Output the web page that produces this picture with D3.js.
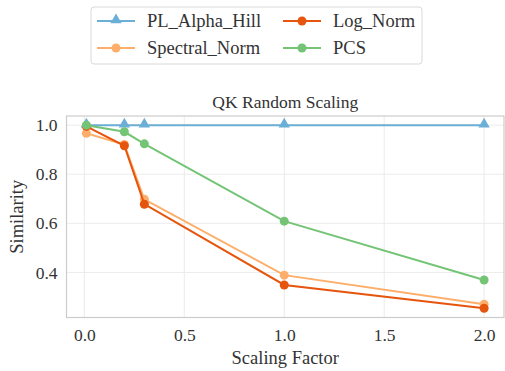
<!DOCTYPE html>
<html>
<head>
<meta charset="utf-8">
<script src="https://cdn.jsdelivr.net/npm/d3@7"></script>
<style>
  body { margin: 0; background: #fff; }
</style>
</head>
<body>
<svg id="chart" width="505" height="371"></svg>
<script>
// data
const scales = [0.01, 0.2, 0.3, 1.0, 2.0];
const alphaHill = [1.0, 1.0, 1.0, 1.0, 1.0];
const spectralNorm = [0.967, 0.921, 0.698, 0.389, 0.270];
const logNorm = [0.995, 0.916, 0.678, 0.349, 0.254];
const pcs = [1.0, 0.973, 0.924, 0.609, 0.369];
const xTicks = [0.0, 0.5, 1.0, 1.5, 2.0];
const yTicks = [0.4, 0.6, 0.8, 1.0];

const series = [
    { name: "PL_Alpha_Hill", values: alphaHill, color: "#6baed6", marker: "triangle" },
    { name: "Spectral_Norm", values: spectralNorm, color: "#fdae6b", marker: "circle" },
    { name: "Log_Norm", values: logNorm, color: "#e6550d", marker: "circle" },
    { name: "PCS", values: pcs, color: "#74c476", marker: "circle" }
];

const FONT = "'Liberation Serif', serif";
const svg = d3.select("#chart");
const plot = { left: 66.5, right: 504, top: 116, bottom: 317.5 };

const x = d3.scaleLinear().domain([-0.0895, 2.0995]).range([plot.left, plot.right]);
const y = d3.scaleLinear().domain([0.2164, 1.0373]).range([plot.bottom, plot.top]);

// grid
const grid = svg.append("g");
grid.selectAll(".gx").data(xTicks).join("line").attr("class", "gx")
    .attr("x1", d => x(d)).attr("x2", d => x(d))
    .attr("y1", plot.top).attr("y2", plot.bottom)
    .attr("stroke", "#e6e6e6").attr("stroke-width", 0.8);
grid.selectAll(".gy").data(yTicks).join("line").attr("class", "gy")
    .attr("x1", plot.left).attr("x2", plot.right)
    .attr("y1", d => y(d)).attr("y2", d => y(d))
    .attr("stroke", "#e6e6e6").attr("stroke-width", 0.8);

// frame
svg.append("rect")
    .attr("x", plot.left).attr("y", plot.top)
    .attr("width", plot.right - plot.left).attr("height", plot.bottom - plot.top)
    .attr("fill", "none").attr("stroke", "#cccccc").attr("stroke-width", 1.2);

// axes (labels only, no tick marks)
svg.append("g")
    .attr("transform", `translate(0,${plot.bottom})`)
    .call(d3.axisBottom(x).tickValues(xTicks).tickFormat(d3.format(".1f")).tickSize(0).tickPadding(11));
svg.append("g")
    .attr("transform", `translate(${plot.left},0)`)
    .call(d3.axisLeft(y).tickValues(yTicks).tickFormat(d3.format(".1f")).tickSize(0).tickPadding(9));
svg.selectAll(".domain").remove();
svg.selectAll(".tick text")
    .attr("font-family", FONT).attr("font-size", 17.5).attr("fill", "#333");

// lines and markers
const line = d3.line().x((d, i) => x(scales[i])).y(d => y(d));
const tri = d3.symbol().type(d3.symbolTriangle).size(55);

series.forEach(s => {
    const g = svg.append("g");
    g.append("path")
        .attr("d", line(s.values))
        .attr("fill", "none")
        .attr("stroke", s.color)
        .attr("stroke-width", 2);
    if (s.marker === "triangle") {
        g.selectAll("path.m").data(s.values).join("path")
            .attr("class", "m")
            .attr("d", tri)
            .attr("transform", (d, i) => `translate(${x(scales[i])},${y(d) - 1})`)
            .attr("fill", s.color);
    } else {
        g.selectAll("circle").data(s.values).join("circle")
            .attr("cx", (d, i) => x(scales[i]))
            .attr("cy", d => y(d))
            .attr("r", 4.5)
            .attr("fill", s.color);
    }
});

// title and axis labels
svg.append("text")
    .attr("x", (plot.left + plot.right) / 2).attr("y", 108)
    .attr("text-anchor", "middle")
    .attr("font-family", FONT).attr("font-size", 17.5).attr("fill", "#333")
    .text("QK Random Scaling");

svg.append("text")
    .attr("x", (plot.left + plot.right) / 2).attr("y", 364)
    .attr("text-anchor", "middle")
    .attr("font-family", FONT).attr("font-size", 18.5).attr("fill", "#333")
    .text("Scaling Factor");

svg.append("text")
    .attr("transform", `translate(23,${(plot.top + plot.bottom) / 2}) rotate(-90)`)
    .attr("text-anchor", "middle")
    .attr("font-family", FONT).attr("font-size", 18.5).attr("fill", "#333")
    .text("Similarity");

// legend
const legend = svg.append("g");
legend.append("rect")
    .attr("x", 91).attr("y", 7).attr("width", 331).attr("height", 57)
    .attr("rx", 3)
    .attr("fill", "#fff").attr("stroke", "#d9d9d9").attr("stroke-width", 1);

const legendPos = [
    { x: 97, y: 21 }, { x: 97, y: 48 }, { x: 283, y: 21 }, { x: 283, y: 48 }
];
series.forEach((s, i) => {
    const p = legendPos[i];
    const item = legend.append("g").attr("transform", `translate(${p.x},${p.y})`);
    item.append("line")
        .attr("x1", 0).attr("x2", 38).attr("y1", 0).attr("y2", 0)
        .attr("stroke", s.color).attr("stroke-width", 2);
    if (s.marker === "triangle") {
        item.append("path").attr("d", tri).attr("transform", "translate(19,-1)").attr("fill", s.color);
    } else {
        item.append("circle").attr("cx", 19).attr("cy", 0).attr("r", 4.5).attr("fill", s.color);
    }
    item.append("text")
        .attr("x", 50).attr("y", 6)
        .attr("font-family", FONT).attr("font-size", 18.5).attr("fill", "#333")
        .text(s.name);
});
</script>
</body>
</html>
